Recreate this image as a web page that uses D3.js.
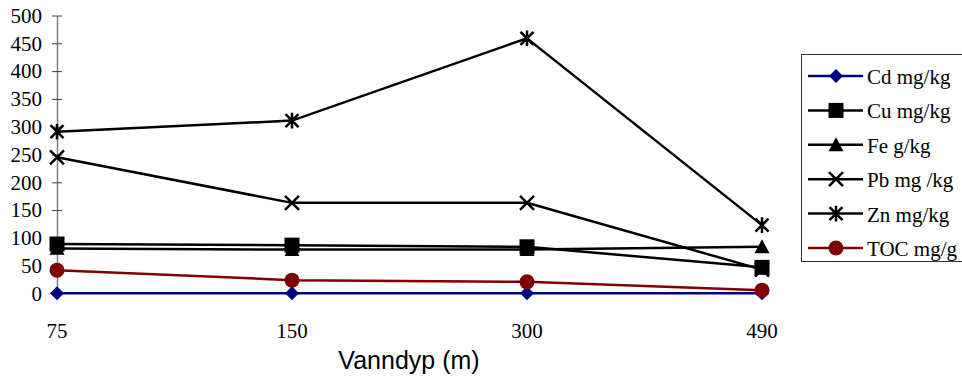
<!DOCTYPE html>
<html>
<head>
<meta charset="utf-8">
<style>
body { margin: 0; background: #fff; }
svg { display: block; }
.serif { font-family: 'Liberation Serif', 'Times New Roman', Times, 'DejaVu Serif', serif; }
</style>
<script src="https://d3js.org/d3.v7.min.js"></script>
</head>
<body>
<script>
const depths = ['75', '150', '300', '490'];
const yTicks = [0, 50, 100, 150, 200, 250, 300, 350, 400, 450, 500];

const cd = [0.4, 0.4, 0.4, 0.4];
const cu = [89, 87, 84, 47];
const fe = [81, 79, 79, 84];
const pb = [245, 163, 163, 43];
const zn = [291, 311, 459, 123];
const toc = [42, 24, 21, 6];

const seriesNames = ['Cd mg/kg', 'Cu mg/kg', 'Fe g/kg', 'Pb mg /kg', 'Zn mg/kg', 'TOC mg/g'];
const seriesValues = [cd, cu, fe, pb, zn, toc];
const seriesColors = ['#000080', '#000000', '#000000', '#000000', '#000000', '#800000'];
const seriesMarkers = ['diamond', 'square', 'triangle', 'x', 'star', 'circle'];

const width = 962, height = 379;
const serif = "'Liberation Serif', 'Times New Roman', Times, 'DejaVu Serif', serif";

const svg = d3.select('body').append('svg')
  .attr('width', width)
  .attr('height', height);

const x = d3.scalePoint()
  .domain(depths)
  .range([57, 762]);

const y = d3.scaleLinear()
  .domain([0, 500])
  .range([293.5, 15.5]);

// marker path centred at 0,0
function marker(type, r) {
  switch (type) {
    case 'diamond':
      return `M0,${-r}L${r},0L0,${r}L${-r},0Z`;
    case 'square':
      return `M${-r},${-r}H${r}V${r}H${-r}Z`;
    case 'triangle':
      return `M0,${-r}L${r},${r * 0.85}L${-r},${r * 0.85}Z`;
    case 'circle':
      return d3.symbol(d3.symbolCircle, Math.PI * r * r)();
    case 'x':
      return `M${-r},${-r}L${r},${r}M${r},${-r}L${-r},${r}`;
    case 'star':
      return `M${-r},${-r}L${r},${r}M${r},${-r}L${-r},${r}M0,${-r * 1.2}V${r * 1.2}`;
  }
}
const markerSize = { diamond: 7, square: 7.5, triangle: 7.5, circle: 7.5, x: 7, star: 6.5 };
const isStroked = t => t === 'x' || t === 'star';

// y axis
const yAxis = svg.append('g')
  .attr('transform', 'translate(' + x(depths[0]) + ',0)')
  .call(d3.axisLeft(y).tickValues(yTicks).tickSizeInner(5).tickSizeOuter(0).tickPadding(10));
yAxis.attr('font-family', serif).attr('font-size', 21);
yAxis.select('.domain').attr('stroke', '#808080').attr('stroke-width', 1.5);
yAxis.selectAll('.tick line').attr('stroke', '#404040').attr('x2', 5).attr('x1', -5);
yAxis.selectAll('.tick text')
  .attr('font-family', serif)
  .attr('font-size', 21)
  .attr('fill', '#000');

// x axis (hidden under Cd line)
svg.append('line')
  .attr('x1', x(depths[0])).attr('x2', x(depths[3]))
  .attr('y1', y(0)).attr('y2', y(0))
  .attr('stroke', '#808080');

svg.append('g')
  .selectAll('text')
  .data(depths)
  .enter().append('text')
    .attr('x', d => x(d))
    .attr('y', 338)
    .attr('text-anchor', 'middle')
    .attr('font-family', serif)
    .attr('font-size', 21)
    .text(d => d);

svg.append('text')
  .attr('x', 409)
  .attr('y', 369)
  .attr('text-anchor', 'middle')
  .attr('font-family', "'Liberation Sans', Arial, sans-serif")
  .attr('font-size', 25)
  .text('Vanndyp (m)');

// series
const line = d3.line()
  .x((d, i) => x(depths[i]))
  .y(d => y(d));

seriesValues.forEach((vals, s) => {
  const col = seriesColors[s];
  const g = svg.append('g');
  g.append('path')
    .attr('d', line(vals))
    .attr('fill', 'none')
    .attr('stroke', col)
    .attr('stroke-width', 2.5);
  const t = seriesMarkers[s];
  g.selectAll('path.m')
    .data(vals)
    .enter().append('path')
      .attr('class', 'm')
      .attr('transform', (d, i) => 'translate(' + x(depths[i]) + ',' + y(d) + ')')
      .attr('d', marker(t, markerSize[t]))
      .attr('fill', isStroked(t) ? 'none' : col)
      .attr('stroke', col)
      .attr('stroke-width', isStroked(t) ? 2.5 : 0);
});

// legend
const legend = svg.append('g');
legend.append('rect')
  .attr('x', 801.5).attr('y', 54.5)
  .attr('width', 170).attr('height', 207)
  .attr('fill', '#fff')
  .attr('stroke', '#333')
  .attr('stroke-width', 1);

const items = legend.selectAll('g.item')
  .data(seriesNames)
  .enter().append('g')
    .attr('class', 'item')
    .attr('transform', (d, i) => 'translate(0,' + (76 + i * 34.4) + ')');

items.append('line')
  .attr('x1', 808).attr('x2', 863)
  .attr('stroke', (d, i) => seriesColors[i])
  .attr('stroke-width', 2.5);

items.append('path')
  .attr('transform', 'translate(836,0)')
  .attr('d', (d, i) => marker(seriesMarkers[i], markerSize[seriesMarkers[i]]))
  .attr('fill', (d, i) => isStroked(seriesMarkers[i]) ? 'none' : seriesColors[i])
  .attr('stroke', (d, i) => seriesColors[i])
  .attr('stroke-width', (d, i) => isStroked(seriesMarkers[i]) ? 2.5 : 0);

items.append('text')
  .attr('x', 867)
  .attr('y', 8)
  .attr('font-family', serif)
  .attr('font-size', 21)
  .text(d => d);
</script>
</body>
</html>
